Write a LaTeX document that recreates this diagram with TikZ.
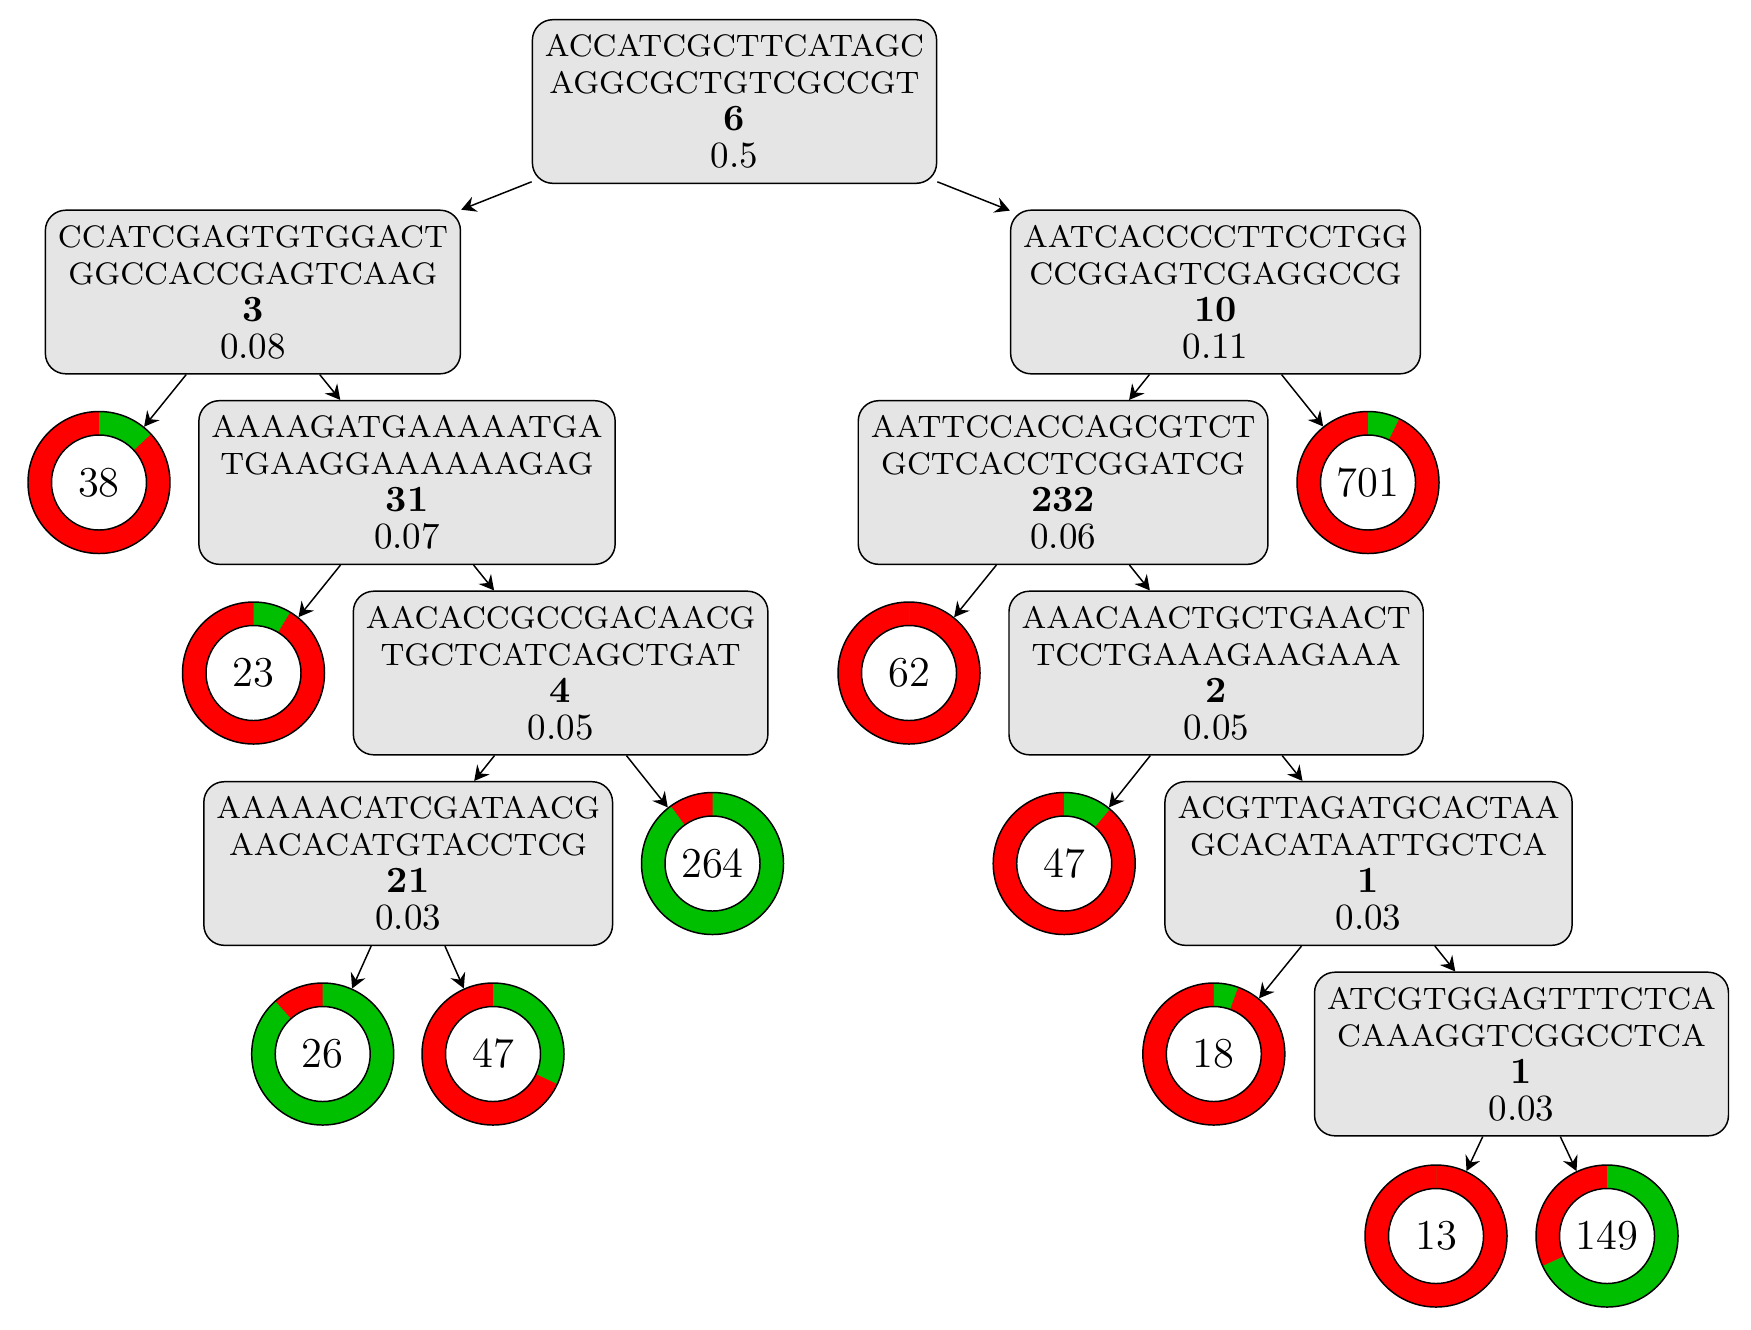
\documentclass[tikz,border=0pt]{standalone}
\usetikzlibrary{arrows.meta}
\pgfdeclarelayer{background}
\pgfsetlayers{background,main}
\definecolor{ringgreen}{RGB}{0,191,0}
\definecolor{ringred}{RGB}{255,0,0}
\newcommand\seqline[1]{{\fontsize{8.4}{10}\selectfont #1}}
\newcommand\splitbox[4]{\seqline{#1}\\\seqline{#2}\\\textbf{#3}\\#4}
% ring around a leaf node: green share (in degrees, clockwise from the top), the rest red
\newcommand\ring[2]{%
  \begin{pgfonlayer}{background}
    \fill[ringred] (#1.center) circle[radius=71];
    \fill[ringgreen] (#1.center) -- ++(90:71) arc[start angle=90, delta angle=-#2, radius=71] -- cycle;
    \fill[white] (#1.center) circle[radius=47.5];
  \end{pgfonlayer}
  \draw (#1.center) circle[radius=47.5];
}
\begin{document}
\begin{tikzpicture}[x=0.27027pt, y=0.27027pt,
  splitnode/.style={draw, fill=black!10, rounded corners=5.5pt, align=center,
    inner xsep=3.4pt, inner ysep=4pt, font=\fontsize{10}{10}\selectfont},
  leaf/.style={circle, draw, minimum size=38.38pt, inner sep=0pt,
    font=\fontsize{11.5}{12}\selectfont},
  edge/.style={-{Stealth[length=4pt, width=4.3pt, inset=1.4pt]}}]
\useasboundingbox (0,0) rectangle (1751,-1329);

% split nodes
\node[splitnode] (root) at (734.5,-101.5) {\splitbox{ACCATCGCTTCATAGC}{AGGCGCTGTCGCCGT}{6}{0.5}};
\node[splitnode] (n3)   at (252.9,-292)  {\splitbox{CCATCGAGTGTGGACT}{GGCCACCGAGTCAAG}{3}{0.08}};
\node[splitnode] (n10)  at (1215.5,-292) {\splitbox{AATCACCCCTTCCTGG}{CCGGAGTCGAGGCCG}{10}{0.11}};
\node[splitnode] (n31)  at (407,-482.5)  {\splitbox{AAAAGATGAAAAATGA}{TGAAGGAAAAAAGAG}{31}{0.07}};
\node[splitnode] (n232) at (1063.1,-482.5) {\splitbox{AATTCCACCAGCGTCT}{GCTCACCTCGGATCG}{232}{0.06}};
\node[splitnode] (n4)   at (560.6,-673)  {\splitbox{AACACCGCCGACAACG}{TGCTCATCAGCTGAT}{4}{0.05}};
\node[splitnode] (n2)   at (1216.1,-673) {\splitbox{AAACAACTGCTGAACT}{TCCTGAAAGAAGAAA}{2}{0.05}};
\node[splitnode] (n21)  at (408.2,-863.5) {\splitbox{AAAAACATCGATAACG}{AACACATGTACCTCG}{21}{0.03}};
\node[splitnode] (n1a)  at (1368.5,-863.5) {\splitbox{ACGTTAGATGCACTAA}{GCACATAATTGCTCA}{1}{0.03}};
\node[splitnode] (n1b)  at (1521.5,-1054) {\splitbox{ATCGTGGAGTTTCTCA}{CAAAGGTCGGCCTCA}{1}{0.03}};

% leaves
\node[leaf] (d38)  at (99,-482.5)   {38};
\node[leaf] (d23)  at (253.5,-673)  {23};
\node[leaf] (d264) at (712.5,-863.5) {264};
\node[leaf] (d26)  at (322.7,-1054) {26};
\node[leaf] (d47a) at (493,-1054)   {47};
\node[leaf] (d701) at (1368,-482.5) {701};
\node[leaf] (d62)  at (909,-673)    {62};
\node[leaf] (d47b) at (1064.2,-863.5) {47};
\node[leaf] (d18)  at (1213.8,-1054) {18};
\node[leaf] (d13)  at (1436,-1236)  {13};
\node[leaf] (d149) at (1607,-1236)  {149};

\ring{d38}{47}
\ring{d23}{31}
\ring{d264}{324}
\ring{d26}{318}
\ring{d47a}{115}
\ring{d701}{26}
\ring{d62}{0}
\ring{d47b}{40}
\ring{d18}{20}
\ring{d13}{0}
\ring{d149}{245}

% edges
\draw[edge] (root) -- (n3);
\draw[edge] (root) -- (n10);
\draw[edge] (n3) -- (d38);
\draw[edge] (n3) -- (n31);
\draw[edge] (n31) -- (d23);
\draw[edge] (n31) -- (n4);
\draw[edge] (n4) -- (n21);
\draw[edge] (n4) -- (d264);
\draw[edge] (n21) -- (d26);
\draw[edge] (n21) -- (d47a);
\draw[edge] (n10) -- (n232);
\draw[edge] (n10) -- (d701);
\draw[edge] (n232) -- (d62);
\draw[edge] (n232) -- (n2);
\draw[edge] (n2) -- (d47b);
\draw[edge] (n2) -- (n1a);
\draw[edge] (n1a) -- (d18);
\draw[edge] (n1a) -- (n1b);
\draw[edge] (n1b) -- (d13);
\draw[edge] (n1b) -- (d149);
\end{tikzpicture}
\end{document}
